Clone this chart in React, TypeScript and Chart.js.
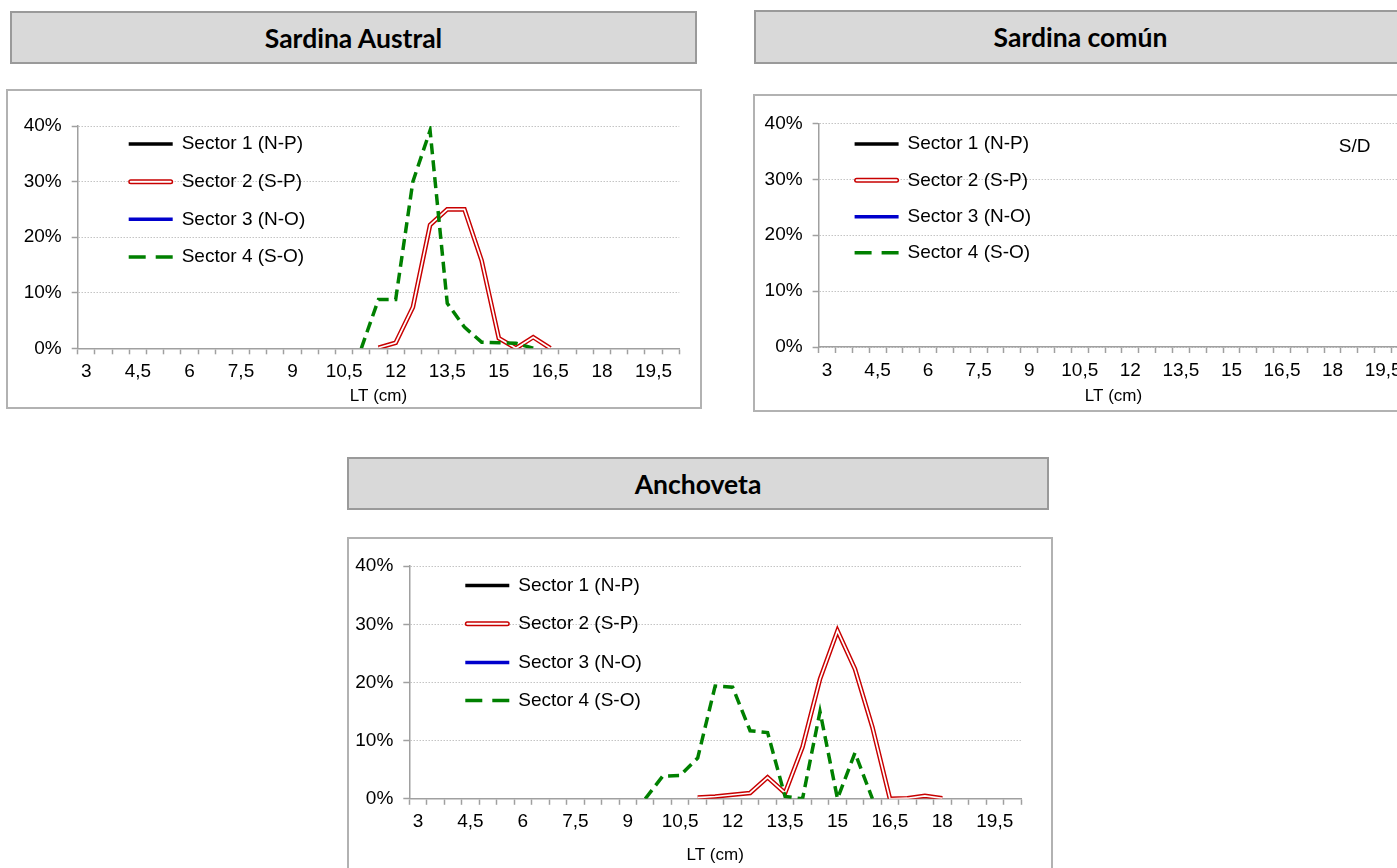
import React, { useEffect, useRef } from 'react';
import { Chart, registerables } from 'chart.js';

Chart.register(...registerables);

const FONT = '"Liberation Sans", Arial, Helvetica, sans-serif';
const TITLE_FONT = 'Lato, "Open Sans", sans-serif';

// ---------- data ----------
const LT_LABELS = [
  '3', '3,5', '4', '4,5', '5', '5,5', '6', '6,5', '7', '7,5',
  '8', '8,5', '9', '9,5', '10', '10,5', '11', '11,5', '12', '12,5',
  '13', '13,5', '14', '14,5', '15', '15,5', '16', '16,5', '17', '17,5',
  '18', '18,5', '19', '19,5', '20',
];
const Y_MAX = 40;
const Y_STEP = 10;
const SERIES_NAMES = ['Sector 1 (N-P)', 'Sector 2 (S-P)', 'Sector 3 (N-O)', 'Sector 4 (S-O)'];
const N = null;

// Sardina Austral (% by length class)
const AUSTRAL_S1: (number | null)[] = [];
const AUSTRAL_S2: (number | null)[] = [
  N, N, N, N, N, N, N, N, N, N, N, N, N, N, N, N, N,
  0.1, 1.0, 7.4, 22.2, 25.0, 25.0, 15.8, 1.8, 0.0, 2.0, 0.0,
  N, N, N, N, N, N, N,
];
const AUSTRAL_S3: (number | null)[] = [];
const AUSTRAL_S4: (number | null)[] = [
  N, N, N, N, N, N, N, N, N, N, N, N, N, N, N, N,
  0.0, 8.8, 8.8, 30.0, 39.2, 8.1, 3.8, 1.1, 1.0, 0.9, 0.0,
  N, N, N, N, N, N, N, N,
];

// Sardina común (sin datos)
const COMUN_S1: (number | null)[] = [];
const COMUN_S2: (number | null)[] = [];
const COMUN_S3: (number | null)[] = [];
const COMUN_S4: (number | null)[] = [];

// Anchoveta
const ANCH_S1: (number | null)[] = [];
const ANCH_S2: (number | null)[] = [
  N, N, N, N, N, N, N, N, N, N, N, N, N, N, N, N,
  0.2, 0.4, 0.7, 1.0, 3.7, 1.0, 8.9, 20.6, 28.9, 22.3, 12.3, 0.0, 0.1, 0.5, 0.1,
  N, N, N, N,
];
const ANCH_S3: (number | null)[] = [];
const ANCH_S4: (number | null)[] = [
  N, N, N, N, N, N, N, N, N, N, N, N, N,
  0.0, 3.9, 4.0, 7.0, 19.4, 19.2, 11.7, 11.4, 0.4, 0.0, 15.0, 0.0, 7.9, 0.0,
  N, N, N, N, N, N, N, N,
];

// ---------- styles ----------
const BLACK = '#000000';
const RED = '#c80000';
const BLUE = '#0000cc';
const GREEN = '#008000';
const AXIS = '#a0a0a0';
const GRID = '#c4c4c4';

type Cfg = {
  key: string;
  title: string;
  titleBox: { x: number; y: number; w: number; h: number };
  box: { x: number; y: number; w: number; h: number };
  plot: { l: number; t: number; r: number; b: number };
  axisTitleY: number;
  legend: { lineStart: number; lineLen: number; textStart: number; rows: number[] };
  series: (number | null)[][];
  note?: { text: string; dx: number; dy: number };
};

const CHARTS: Cfg[] = [
  {
    key: 'austral',
    title: 'Sardina Austral',
    titleBox: { x: 10, y: 11, w: 687, h: 53 },
    box: { x: 6, y: 89, w: 696, h: 320 },
    plot: { l: 77.7, t: 126, r: 679.3, b: 348.3 },
    axisTitleY: 396.7,
    legend: { lineStart: 51, lineLen: 44, textStart: 104, rows: [18, 55.7, 93.3, 131] },
    series: [AUSTRAL_S1, AUSTRAL_S2, AUSTRAL_S3, AUSTRAL_S4],
  },
  {
    key: 'comun',
    title: 'Sardina común',
    titleBox: { x: 754, y: 10, w: 653, h: 54 },
    box: { x: 753, y: 94, w: 700, h: 318 },
    plot: { l: 818.6, t: 123.5, r: 1408.4, b: 347 },
    axisTitleY: 396,
    legend: { lineStart: 36, lineLen: 44, textStart: 89, rows: [20.5, 56.8, 93.2, 129.2] },
    series: [COMUN_S1, COMUN_S2, COMUN_S3, COMUN_S4],
    note: { text: 'S/D', dx: 536, dy: 23.2 },
  },
  {
    key: 'anchoveta',
    title: 'Anchoveta',
    titleBox: { x: 347, y: 457, w: 702, h: 53 },
    box: { x: 347, y: 536.5, w: 706, h: 345 },
    plot: { l: 409.3, t: 565.7, r: 1021, b: 798.3 },
    axisTitleY: 855,
    legend: { lineStart: 56, lineLen: 44, textStart: 109, rows: [19.3, 57.6, 96.3, 134.3] },
    series: [ANCH_S1, ANCH_S2, ANCH_S3, ANCH_S4],
  },
];

const Y_AXIS_W = 60;
const AXIS_TITLE_SIZE = 17;

function strokeSeg(ctx: CanvasRenderingContext2D, x1: number, x2: number, y: number) {
  ctx.beginPath();
  ctx.moveTo(x1, y);
  ctx.lineTo(x2, y);
  ctx.stroke();
}

function makeOverlay(cfg: Cfg) {
  return {
    id: 'overlay_' + cfg.key,
    afterDraw(chart: any) {
      const { ctx, chartArea } = chart;
      const L = cfg.legend;
      ctx.save();
      const colors = [BLACK, RED, BLUE, GREEN];
      SERIES_NAMES.forEach((name, k) => {
        const y = chartArea.top + L.rows[k];
        const x1 = chartArea.left + L.lineStart;
        const x2 = x1 + L.lineLen;
        ctx.setLineDash([]);
        if (k === 1) {
          ctx.lineCap = 'round';
          ctx.strokeStyle = colors[k];
          ctx.lineWidth = 5;
          strokeSeg(ctx, x1 + 2, x2 - 2, y);
          ctx.strokeStyle = '#ffffff';
          ctx.lineWidth = 2;
          strokeSeg(ctx, x1 + 2, x2 - 2, y);
        } else if (k === 3) {
          ctx.lineCap = 'butt';
          ctx.strokeStyle = colors[k];
          ctx.lineWidth = 3.5;
          ctx.setLineDash([17, 10]);
          strokeSeg(ctx, x1, x2, y);
          ctx.setLineDash([]);
        } else {
          ctx.lineCap = 'butt';
          ctx.strokeStyle = colors[k];
          ctx.lineWidth = 3.5;
          strokeSeg(ctx, x1, x2, y);
        }
        ctx.fillStyle = '#000';
        ctx.font = `19px ${FONT}`;
        ctx.textBaseline = 'middle';
        ctx.textAlign = 'left';
        ctx.fillText(name, chartArea.left + L.textStart, y);
      });
      if (cfg.note) {
        ctx.fillStyle = '#000';
        ctx.font = `19px ${FONT}`;
        ctx.textBaseline = 'middle';
        ctx.textAlign = 'center';
        ctx.fillText(cfg.note.text, chartArea.left + cfg.note.dx, chartArea.top + cfg.note.dy);
      }
      ctx.restore();
    },
  };
}

function SectorChart({ cfg }: { cfg: Cfg }) {
  const ref = useRef<HTMLCanvasElement>(null);
  useEffect(() => {
    const canvas = ref.current;
    if (!canvas) return;
    const { box, plot } = cfg;
    const titleLH = AXIS_TITLE_SIZE * 1.2;
    const xBottom = cfg.axisTitleY + titleLH / 2;
    const xHeight = xBottom - plot.b;
    const padding = {
      left: plot.l - box.x - Y_AXIS_W,
      top: plot.t - box.y,
      right: box.x + box.w - plot.r,
      bottom: box.y + box.h - xBottom,
    };
    const [s1, s2, s3, s4] = cfg.series;
    const common = { pointRadius: 0, pointHoverRadius: 0, tension: 0, fill: false, spanGaps: false };
    const chart = new Chart(canvas, {
      type: 'line',
      data: {
        labels: LT_LABELS,
        datasets: [
          { ...common, label: SERIES_NAMES[3], data: s4, borderColor: GREEN, borderWidth: 3.5, borderDash: [11, 6], order: 0 },
          { ...common, label: SERIES_NAMES[1] + ' inner', data: s2, borderColor: '#ffffff', borderWidth: 1.7, order: 1 },
          { ...common, label: SERIES_NAMES[1], data: s2, borderColor: RED, borderWidth: 4.6, order: 2 },
          { ...common, label: SERIES_NAMES[0], data: s1, borderColor: BLACK, borderWidth: 3, order: 3 },
          { ...common, label: SERIES_NAMES[2], data: s3, borderColor: BLUE, borderWidth: 3, order: 4 },
        ] as any,
      },
      options: {
        responsive: false,
        maintainAspectRatio: false,
        animation: false,
        events: [],
        layout: { padding },
        plugins: { legend: { display: false }, tooltip: { enabled: false }, title: { display: false } },
        scales: {
          x: {
            type: 'category',
            offset: true,
            grid: {
              offset: true,
              drawOnChartArea: false,
              drawTicks: true,
              tickLength: 6,
              tickColor: AXIS,
              tickWidth: 1.5,
            },
            border: { display: true, color: AXIS, width: 1.5 },
            ticks: {
              autoSkip: false,
              maxRotation: 0,
              minRotation: 0,
              padding: 6,
              color: '#000',
              font: { size: 19, family: FONT },
              callback: (_v: any, i: number) => (i % 3 === 0 ? LT_LABELS[i] : ''),
            },
            title: {
              display: true,
              text: 'LT (cm)',
              color: '#000',
              font: { size: AXIS_TITLE_SIZE, family: FONT },
              padding: 0,
            },
            afterFit: (s: any) => {
              s.height = xHeight;
            },
          },
          y: {
            min: 0,
            max: Y_MAX,
            grid: {
              color: GRID,
              lineWidth: 1,
              drawTicks: true,
              tickLength: 6,
              tickColor: AXIS,
              tickWidth: 1.5,
              tickBorderDash: [],
            },
            border: { display: true, color: AXIS, width: 1.5, dash: [1.5, 1.5] },
            ticks: {
              stepSize: Y_STEP,
              padding: 10,
              color: '#000',
              font: { size: 19, family: FONT },
              callback: (v: any) => `${v}%`,
            },
            afterFit: (s: any) => {
              s.width = Y_AXIS_W;
            },
          },
        },
      } as any,
      plugins: [makeOverlay(cfg)],
    });
    return () => chart.destroy();
  }, [cfg]);
  const { box } = cfg;
  return (
    <>
      <canvas
        ref={ref}
        width={box.w}
        height={box.h}
        style={{ position: 'absolute', left: box.x, top: box.y, width: box.w, height: box.h }}
      />
      <div
        style={{
          position: 'absolute',
          left: box.x,
          top: box.y,
          width: box.w,
          height: box.h,
          boxSizing: 'border-box',
          border: '2px solid #b2b2b2',
          pointerEvents: 'none',
        }}
      />
      <div
        style={{
          position: 'absolute',
          left: cfg.titleBox.x,
          top: cfg.titleBox.y,
          width: cfg.titleBox.w,
          height: cfg.titleBox.h,
          boxSizing: 'border-box',
          background: '#d9d9d9',
          border: '2px solid #9a9a9a',
          display: 'flex',
          alignItems: 'center',
          justifyContent: 'center',
          fontFamily: TITLE_FONT,
          fontWeight: 700,
          fontSize: 26.5,
          color: '#000',
        }}
      >
        {cfg.title}
      </div>
    </>
  );
}

export default function App() {
  return (
    <div
      style={{
        position: 'absolute',
        left: 0,
        top: 0,
        width: 1397,
        height: 868,
        overflow: 'hidden',
        background: '#ffffff',
      }}
    >
      {CHARTS.map((c) => (
        <SectorChart key={c.key} cfg={c} />
      ))}
    </div>
  );
}
